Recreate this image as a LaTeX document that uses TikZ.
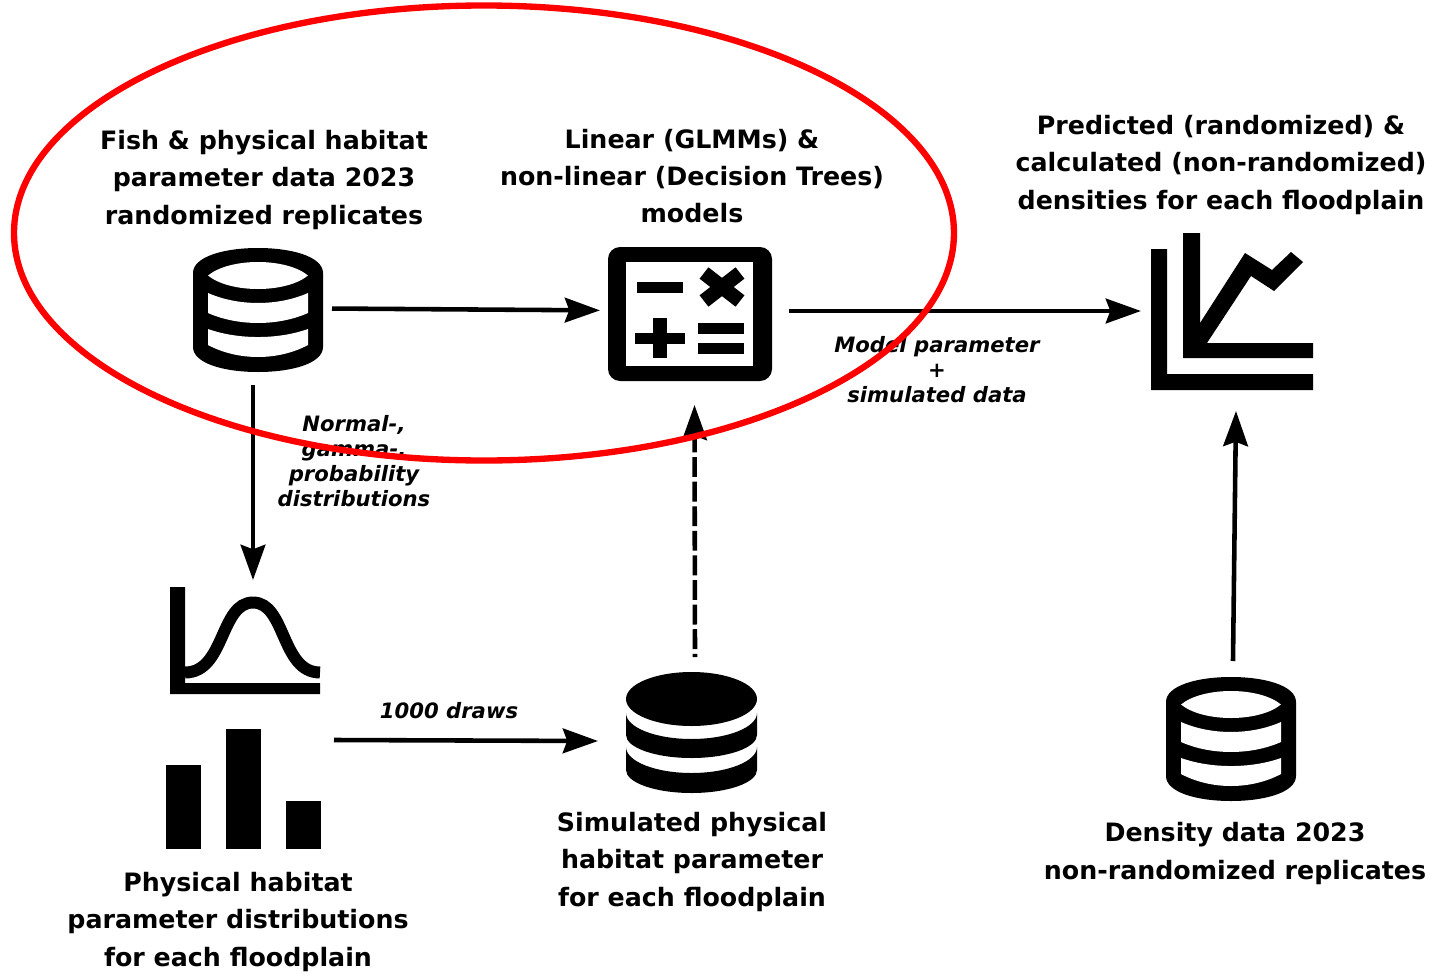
\documentclass[tikz,border=0pt]{standalone}
\usepackage{fontspec}
\setmainfont{DejaVu Sans}
\usetikzlibrary{arrows.meta}
\definecolor{Ring}{RGB}{255, 0, 0}
\tikzset{
	iconbox/.style 2 args={minimum width=#1*0.02cm, minimum height=#2*0.02cm, inner sep=0pt, outer sep=0pt},
	titlelabel/.style={align=center, inner sep=0pt, font=\fontsize{14.4}{21.3}\selectfont\bfseries},
	notelabel/.style={align=center, inner sep=0pt, font=\fontsize{12.05}{14.2}\selectfont\bfseries\itshape},
	flow/.style={line width=2.6pt, -{Stealth[length=20pt, width=14pt, inset=2.5pt]}},
	flowdash/.style={flow, dash pattern=on 11.3pt off 2.7pt, dash phase=9.5pt},
	dbopen/.pic={
		\fill (-65,-37) .. controls (-65,-53) and (-35,-62) .. (0,-62) .. controls (35,-62) and (65,-53) .. (65,-37) -- (65,37) .. controls (65,53) and (35,62) .. (0,62) .. controls (-35,62) and (-65,53) .. (-65,37) -- cycle;
		\fill[white] (-50,-34.5) .. controls (-28,-52.5) and (28,-52.5) .. (50,-34.5) .. controls (28,-16.5) and (-28,-16.5) .. cycle;
		\fill[white] (-50,-17) .. controls (-20,-3.7) and (20,-3.7) .. (50,-17) -- (50,3) .. controls (20,16.3) and (-20,16.3) .. (-50,3) -- cycle;
		\fill[white] (-50,19) .. controls (-20,29.7) and (20,29.7) .. (50,19) -- (50,35) .. controls (20,51) and (-20,51) .. (-50,35) -- cycle;
	},
	dbfull/.pic={
		\fill (0,-33.5) ellipse (65.5 and 27);
		\fill (-65.5,-19.5) arc [start angle=180, end angle=0, x radius=65.5, y radius=26] -- (65.5,2.5) arc [start angle=0, end angle=180, x radius=65.5, y radius=23] -- cycle;
		\fill (-65.5,14.5) arc [start angle=180, end angle=0, x radius=65.5, y radius=26] -- (65.5,37.5) arc [start angle=0, end angle=180, x radius=65.5, y radius=23] -- cycle;
	},
}

\begin{document}
\begin{tikzpicture}[x=0.02cm, y=-0.02cm]
	\useasboundingbox (0,0) rectangle (1455,974);
	% Icon boxes that the arrows start and end on
	\node[iconbox={158}{154}] (rawdb) at (253,308) {};
	\node[iconbox={189}{188}] (calc) at (694.5,311) {};
	\node[iconbox={190}{200}] (plot) at (1236,311) {};
	\node[iconbox={160}{120}] (bell) at (253,640) {};
	\node[iconbox={162}{78}] (bars) at (253,740) {};
	\node[iconbox={194}{168}] (simdb) at (695,741) {};
	\node[iconbox={140}{158}] (densdb) at (1233,740) {};
	% Databases
	\pic at (258,310) {dbopen};
	\pic at (691.5,732.5) {dbfull};
	\pic at (1231,739) {dbopen};
	% Calculator
	\fill[rounded corners=12*0.02cm] (608,247) rectangle (772,381);
	\fill[white] (626,262) rectangle (753,366);
	\fill (637,282) rectangle (683,293);
	\fill (635,333) rectangle (685,344);
	\fill (653,318) rectangle (667,358);
	\fill (698,323) rectangle (744,334);
	\fill (698,343) rectangle (744,354);
	\draw[line width=8.2pt] (704,273) -- (740,301);
	\draw[line width=8.2pt] (740,273) -- (704,301);
	% Line chart
	\fill (1151,249) -- (1167,249) -- (1167,374) -- (1313,374) -- (1313,390) -- (1151,390) -- cycle;
	\fill (1183,233) -- (1200,233) -- (1200,343) -- (1313,343) -- (1313,358) -- (1183,358) -- cycle;
	\fill (1200,323) -- (1245,253) -- (1272,270) -- (1291,252) -- (1303,262) -- (1274,291) -- (1251,276) -- (1207,343) -- (1200,343) -- cycle;
	% Bell curve
	\fill (170,587) -- (185,587) -- (185,683) -- (320,683) -- (320,694) -- (170,694) -- cycle;
	\draw[line width=6.8pt] (185,672.5) .. controls (225,672.5) and (220,602.5) .. (253,602.5) .. controls (286,602.5) and (281,672.5) .. (320,672.5);
	% Bars
	\fill (166,765) rectangle (201,849);
	\fill (226,729) rectangle (261,849);
	\fill (286,801) rectangle (321,849);
	% Titles
	\node[titlelabel] (rawtitle) at (264,180) {Fish \& physical habitat\\parameter data 2023\\randomized replicates};
	\node[titlelabel] (calctitle) at (692,176) {Linear (GLMMs) \&\\non-linear (Decision Trees)\\models};
	\node[titlelabel] (plottitle) at (1221,165) {Predicted (randomized) \&\\calculated (non-randomized)\\densities for each floodplain};
	\node[titlelabel] (barstitle) at (238,922) {Physical habitat\\parameter distributions\\for each floodplain};
	\node[titlelabel] (simtitle) at (692,862) {Simulated physical\\habitat parameter\\for each floodplain};
	\node[titlelabel] (denstitle) at (1235,853.5) {Density data 2023\\non-randomized replicates};
	% Arrows
	\draw[flow] (rawdb) -- (calc);
	\draw[flow] (rawdb.south) -- (bell.north);
	\draw[flow] (bars.east) -- (simdb.west);
	\draw[flowdash] (simdb.north) -- (calc.south);
	\draw[flow] (calc.east) -- (plot.west);
	\draw[flow] (densdb.north) -- (plot.south);
	% Arrow notes
	\node[notelabel] (distnote) at (354,461) {Normal-,\\gamma-,\\probability\\distributions};
	\node[notelabel] (drawnote) at (449,711) {1000 draws};
	\node[notelabel] (modelnote) at (937,370) {Model parameter\\+\\simulated data};
	% Red ring on top of everything
	\draw[Ring, line width=3.6pt] (484,233) ellipse (470 and 227.5);
\end{tikzpicture}
\end{document}
